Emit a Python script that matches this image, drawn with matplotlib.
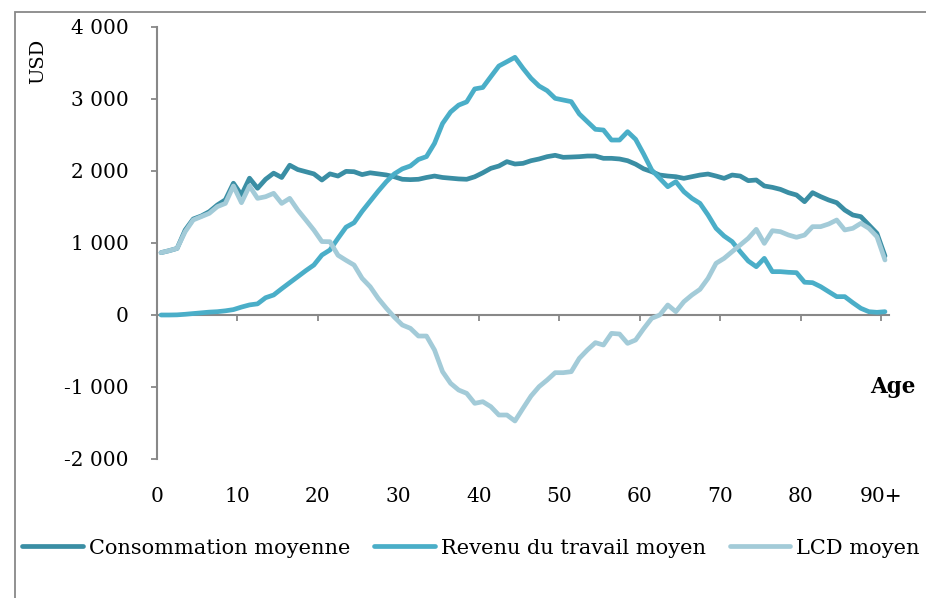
import matplotlib.pyplot as plt
from matplotlib.patches import Rectangle
import numpy as np

plt.rcParams['font.family'] = 'DejaVu Serif'

ages = list(range(0, 91))
age_labels = ['0', '10', '20', '30', '40', '50', '60', '70', '80', '90+']

consommation = [866, 893, 925, 1180, 1333, 1375, 1435, 1528, 1600, 1830,
                1667, 1900, 1760, 1885, 1970, 1910, 2080, 2020, 1990, 1960,
                1875, 1960, 1930, 1995, 1990, 1950, 1975, 1960, 1945, 1920,
                1885, 1880, 1885, 1910, 1930, 1910, 1900, 1890, 1885, 1920,
                1975, 2037, 2069, 2130, 2097, 2106, 2143, 2167, 2199, 2218,
                2190, 2194, 2199, 2208, 2208, 2176, 2176, 2167, 2143, 2095,
                2030, 1991, 1944, 1930, 1921, 1898, 1921, 1944, 1958, 1930,
                1898, 1944, 1930, 1866, 1875, 1792, 1773, 1745, 1699, 1667,
                1574, 1699, 1644, 1597, 1560, 1458, 1389, 1366, 1250, 1134,
                819]
revenu = [0, 0, 2, 10, 20, 30, 40, 46, 58, 75,
          110, 140, 155, 240, 278, 365, 449, 532, 616, 694,
          833, 903, 1065, 1220, 1282, 1440, 1580, 1720, 1850, 1960,
          2030, 2070, 2160, 2200, 2384, 2660, 2820, 2915, 2960, 3140,
          3160, 3310, 3458, 3518, 3579, 3426, 3287, 3180, 3116, 3009,
          2986, 2963, 2792, 2685, 2579, 2569, 2430, 2430, 2546, 2440,
          2235, 2014, 1898, 1782, 1852, 1713, 1620, 1551, 1389, 1204,
          1097, 1019, 880, 750, 671, 787, 602, 602, 593, 588,
          455, 449, 394, 324, 255, 255, 171, 93, 46, 37,
          46]
lcd = [866, 893, 925, 1157, 1320, 1366, 1412, 1505, 1550, 1792,
       1560, 1792, 1620, 1643, 1690, 1550, 1620, 1458, 1320, 1180,
       1020, 1018, 830, 760, 694, 509, 393, 231, 95, -30,
       -139, -185, -292, -292, -486, -787, -949, -1042, -1088, -1227,
       -1204, -1273, -1389, -1389, -1472, -1296, -1125, -995, -903, -801,
       -801, -787, -602, -486, -384, -417, -255, -264, -394, -347,
       -190, -46, 0, 139, 46, 185, 278, 356, 509, 718,
       787, 880, 972, 1065, 1190, 995, 1171, 1157, 1111, 1079,
       1110, 1227, 1227, 1264, 1319, 1181, 1204, 1273, 1204, 1088,
       764]

yticks = [-2000, -1000, 0, 1000, 2000, 3000, 4000]

fig = plt.figure(figsize=(9.26, 5.98), dpi=100)
ax = fig.add_axes([157/926, 1 - 459/598, 732/926, 432/598])

x = np.array(ages) + 0.5
ax.plot(x, consommation, color='#3a8ea4', lw=3.4, label='Consommation moyenne',
        solid_capstyle='round', solid_joinstyle='round', zorder=3)
ax.plot(x, revenu, color='#4aaec8', lw=3.4, label='Revenu du travail moyen',
        solid_capstyle='round', solid_joinstyle='round', zorder=3)
ax.plot(x, lcd, color='#a3cbd8', lw=3.4, label='LCD moyen',
        solid_capstyle='round', solid_joinstyle='round', zorder=3)

ax.set_xlim(0, 91)
ax.set_ylim(-2000, 4000)

# y axis
ax.set_yticks(yticks)
ax.set_yticklabels([f'{v:,}'.replace(',', ' ') for v in yticks])
ax.tick_params(axis='y', direction='out', length=4.5, width=1.3, color='#888888',
               labelsize=14.5, pad=16)

# x axis line at zero, labels at the bottom
ax.spines['bottom'].set_position(('data', 0))
ax.set_xticks(range(0, 91, 10))
ax.tick_params(axis='x', direction='out', length=4.5, width=1.3, color='#888888',
               labelbottom=False)
sec = ax.secondary_xaxis('bottom')
sec.set_xticks(range(0, 91, 10))
sec.set_xticklabels(age_labels)
sec.tick_params(length=0, labelsize=14.5, pad=20)
sec.spines['bottom'].set_visible(False)

for s in ['top', 'right']:
    ax.spines[s].set_visible(False)
for s in ['left', 'bottom']:
    ax.spines[s].set_color('#888888')
    ax.spines[s].set_linewidth(1.5)
ax.spines['bottom'].set_zorder(1)

fig.text(38/926, 1 - 61/598, 'USD', rotation=90, ha='center', va='center', fontsize=14)
fig.text(893/926, 1 - 387/598, 'Age', ha='center', va='center', fontsize=15.5,
         fontweight='bold')

fig.legend(loc='center', bbox_to_anchor=(471/926, 1 - 548/598), ncol=3, frameon=False,
           fontsize=15, handlelength=2.9, handletextpad=0.3, columnspacing=1.15)

fig.patches.append(Rectangle((15/926, -0.1), 1.2, 1.1 - 12/598, transform=fig.transFigure,
                             fill=False, edgecolor='#888888', lw=1.3))

fig.savefig('out.png', dpi=100)
